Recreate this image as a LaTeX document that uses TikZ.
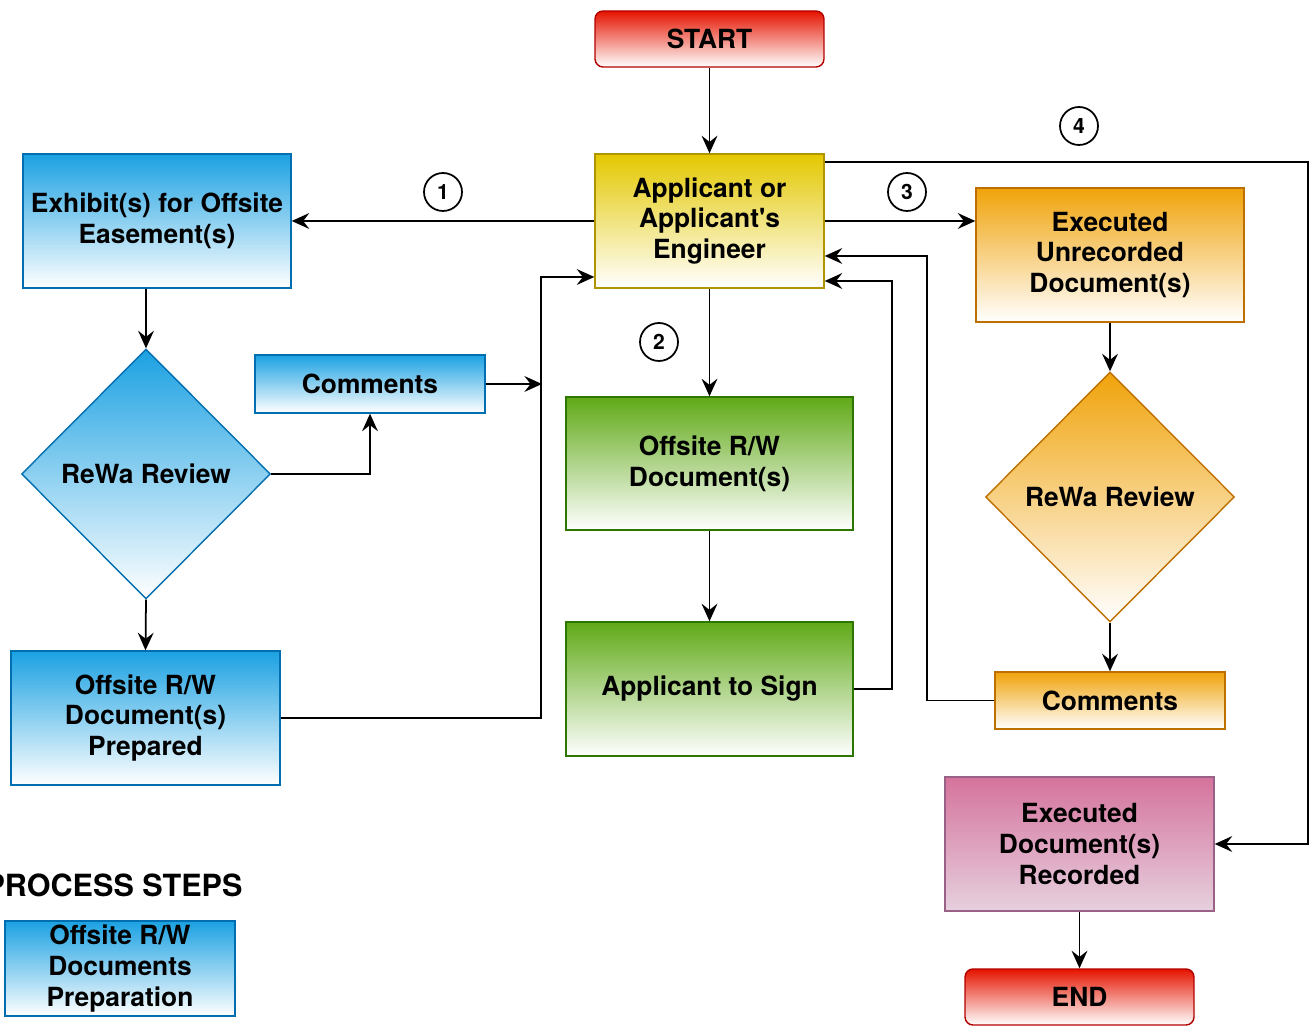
\documentclass[tikz,border=0pt]{standalone}
\usepackage{fontspec}
\setmainfont{TeX Gyre Heros}
\usepackage{xcolor}
\usepackage{tikz}
\usetikzlibrary{shapes.geometric,arrows.meta}

\definecolor{bluefill}{HTML}{1BA1E2}
\definecolor{blueline}{HTML}{006EAF}
\definecolor{yelfill}{HTML}{E3C800}
\definecolor{yelline}{HTML}{B09500}
\definecolor{orfill}{HTML}{F0A30A}
\definecolor{orline}{HTML}{BD7000}
\definecolor{grfill}{HTML}{60A917}
\definecolor{grline}{HTML}{2D7600}
\definecolor{redfill}{HTML}{E51400}
\definecolor{redline}{HTML}{B20000}
\definecolor{pinkfill}{HTML}{D5739D}
\definecolor{pinkbot}{HTML}{E6D0DE}
\definecolor{pinkline}{HTML}{996185}

\begin{document}
\begin{tikzpicture}[x=0.02cm, y=-0.02cm,
    every node/.style={font=\fontsize{15}{17.6}\selectfont\bfseries, align=center, inner sep=0pt},
    box/.style={draw, line width=0.8pt, minimum width=5.36cm, minimum height=2.68cm},
    bluebox/.style={box, draw=blueline, top color=bluefill, bottom color=white},
    yelbox/.style={box, draw=yelline, top color=yelfill, bottom color=white},
    orbox/.style={box, draw=orline, top color=orfill, bottom color=white},
    grbox/.style={box, draw=grline, top color=grfill, bottom color=white, minimum width=5.74cm},
    pinkbox/.style={box, draw=pinkline, top color=pinkfill, bottom color=pinkbot},
    term/.style={box, draw=redline, top color=redfill, bottom color=white, rounded corners=0.16cm, minimum width=4.58cm, minimum height=1.12cm},
    decide/.style={diamond, draw, line width=0.8pt, minimum width=4.98cm, minimum height=5cm},
    stepnum/.style={circle, draw, line width=1pt, minimum size=0.76cm, font=\fontsize{12}{14}\selectfont\bfseries},
    arr/.style={-{Stealth[length=10pt,width=9pt,inset=3.5pt]}, line width=1pt}]
    \useasboundingbox (0,0) rectangle (1309,1026);

    \node[term] (start) at (709.5,39) {START};
    \node[yelbox, minimum width=4.58cm] (app) at (709.5,221) {Applicant or\\Applicant\textquotesingle s\\Engineer};

    % offsite easement branch
    \node[bluebox] (exh) at (157,221) {Exhibit(s) for Offsite\\Easement(s)};
    \node[decide, draw=blueline, top color=bluefill, bottom color=white] (revL) at (146,474) {ReWa Review};
    \node[bluebox, minimum width=4.6cm, minimum height=1.16cm] (cmL) at (370,384) {Comments};
    \node[bluebox, minimum width=5.38cm] (prep) at (145.5,718) {Offsite R/W\\Document(s)\\Prepared};

    % document branch
    \node[grbox, minimum height=2.66cm] (doc) at (709.5,463.5) {Offsite R/W\\Document(s)};
    \node[grbox] (sign) at (709.5,689) {Applicant to Sign};

    % executed branch
    \node[orbox] (exu) at (1110,255) {Executed\\Unrecorded\\Document(s)};
    \node[decide, draw=orline, top color=orfill, bottom color=white] (revR) at (1110,497) {ReWa Review};
    \node[orbox, minimum width=4.6cm, minimum height=1.14cm] (cmR) at (1110,700.5) {Comments};
    \node[pinkbox, minimum width=5.38cm] (rec) at (1079.5,844) {Executed\\Document(s)\\Recorded};
    \node[term] (end) at (1079.5,997) {END};

    \node[stepnum] (n1) at (443,192) {1};
    \node[stepnum] (n2) at (659,342) {2};
    \node[stepnum] (n3) at (907,192) {3};
    \node[stepnum] (n4) at (1079,126) {4};

    % legend
    \node[font=\fontsize{17.4}{20}\selectfont\bfseries] (legtitle) at (113.5,885) {PROCESS STEPS};
    \node[bluebox, minimum width=4.6cm, minimum height=1.9cm] (leg) at (120,968.5) {Offsite R/W\\Documents\\Preparation};

    \coordinate (bus) at (542,384);
    \coordinate (rt) at (1308,162);

    \draw[arr] (start) -- (app);
    \draw[arr] (app.west) -- (exh.east);
    \draw[arr] (revL.north |- exh.south) -- (revL.north);
    \draw[arr] (revL.south) -- (prep.north);
    \draw[arr] (revL.east) -| (cmL.south);
    \draw[arr] (cmL.east) -- (bus);
    \draw[arr] (prep.east) -| ([xshift=-1.06cm,yshift=-1.12cm]app.west) -- ([yshift=-1.12cm]app.west);

    \draw[arr] (app.south) -- (doc.north);
    \draw[arr] (doc.south) -- (sign.north);
    \draw[arr] (sign.east) -| ([xshift=1.34cm,yshift=-1.2cm]app.east) -- ([yshift=-1.2cm]app.east);

    \draw[arr] (app.east) -- (app.east -| exu.west);
    \draw[arr] (exu.south) -- (revR.north);
    \draw[arr] (revR.south) -- (cmR.north);
    \draw[arr] (cmR.west) -| ([xshift=2.04cm,yshift=-0.7cm]app.east) -- ([yshift=-0.7cm]app.east);

    \draw[arr] (app.north east |- rt) -- (rt) |- (rec.east);
    \draw[arr] (rec.south) -- (end.north);
\end{tikzpicture}
\end{document}
